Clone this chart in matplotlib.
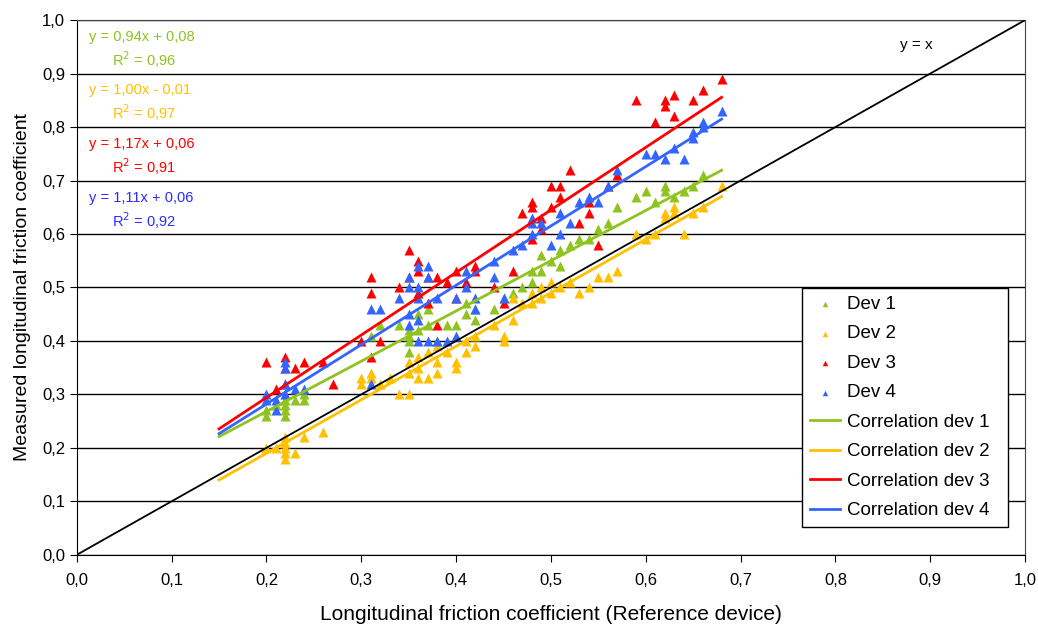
import matplotlib.pyplot as plt
from matplotlib.ticker import FuncFormatter

plt.rcParams['font.family'] = ['Liberation Sans', 'DejaVu Sans']

# measured points: (reference, measured)
dev1 = [(0.20, 0.26), (0.20, 0.27), (0.21, 0.28), (0.22, 0.26), (0.22, 0.27), (0.22, 0.28),
        (0.22, 0.29), (0.22, 0.30), (0.23, 0.29), (0.24, 0.29), (0.24, 0.30),
        (0.31, 0.41), (0.32, 0.43), (0.34, 0.43), (0.35, 0.38), (0.35, 0.40), (0.35, 0.41),
        (0.35, 0.42), (0.36, 0.42), (0.36, 0.45), (0.37, 0.43), (0.37, 0.46), (0.38, 0.40),
        (0.39, 0.43), (0.40, 0.43), (0.41, 0.45), (0.41, 0.47), (0.42, 0.44), (0.42, 0.46),
        (0.44, 0.46), (0.45, 0.48), (0.46, 0.49), (0.47, 0.50), (0.48, 0.51), (0.48, 0.53),
        (0.49, 0.53), (0.49, 0.56), (0.50, 0.55), (0.51, 0.54), (0.51, 0.57), (0.52, 0.58),
        (0.53, 0.59), (0.54, 0.59), (0.55, 0.61), (0.56, 0.62), (0.57, 0.65), (0.59, 0.67),
        (0.60, 0.68), (0.61, 0.66), (0.62, 0.68), (0.62, 0.69), (0.63, 0.67), (0.64, 0.68),
        (0.65, 0.69), (0.66, 0.71)]
dev2 = [(0.20, 0.20), (0.21, 0.20), (0.22, 0.18), (0.22, 0.19), (0.22, 0.20), (0.22, 0.21),
        (0.22, 0.22), (0.23, 0.19), (0.24, 0.22), (0.26, 0.23), (0.30, 0.32), (0.30, 0.33),
        (0.31, 0.33), (0.31, 0.34), (0.32, 0.32), (0.33, 0.33), (0.34, 0.30), (0.35, 0.30),
        (0.35, 0.34), (0.35, 0.36), (0.36, 0.33), (0.36, 0.35), (0.36, 0.37), (0.37, 0.33),
        (0.37, 0.38), (0.38, 0.34), (0.38, 0.36), (0.38, 0.39), (0.39, 0.38), (0.40, 0.35),
        (0.40, 0.36), (0.41, 0.38), (0.41, 0.40), (0.42, 0.39), (0.42, 0.41), (0.44, 0.43),
        (0.45, 0.40), (0.45, 0.41), (0.46, 0.44), (0.46, 0.48), (0.47, 0.47), (0.48, 0.47),
        (0.48, 0.49), (0.49, 0.48), (0.49, 0.50), (0.50, 0.49), (0.50, 0.51), (0.51, 0.50),
        (0.52, 0.51), (0.53, 0.49), (0.54, 0.50), (0.55, 0.52), (0.56, 0.52), (0.57, 0.53),
        (0.59, 0.60), (0.60, 0.59), (0.61, 0.60), (0.62, 0.63), (0.62, 0.64), (0.63, 0.65),
        (0.63, 0.64), (0.64, 0.60), (0.65, 0.64), (0.66, 0.65), (0.68, 0.69)]
dev3 = [(0.20, 0.36), (0.21, 0.31), (0.22, 0.32), (0.22, 0.35), (0.22, 0.37), (0.23, 0.35),
        (0.24, 0.36), (0.26, 0.36), (0.27, 0.32), (0.30, 0.40), (0.31, 0.49), (0.31, 0.52),
        (0.31, 0.37), (0.32, 0.40), (0.34, 0.50), (0.35, 0.57), (0.35, 0.52), (0.36, 0.49),
        (0.36, 0.53), (0.36, 0.55), (0.37, 0.47), (0.37, 0.52), (0.38, 0.43), (0.38, 0.52),
        (0.39, 0.51), (0.40, 0.48), (0.40, 0.53), (0.41, 0.51), (0.42, 0.54), (0.42, 0.53),
        (0.44, 0.50), (0.45, 0.47), (0.46, 0.53), (0.47, 0.64), (0.48, 0.65), (0.48, 0.66),
        (0.48, 0.59), (0.49, 0.61), (0.49, 0.63), (0.50, 0.65), (0.50, 0.69), (0.51, 0.67),
        (0.51, 0.69), (0.52, 0.72), (0.53, 0.62), (0.54, 0.64), (0.54, 0.66), (0.55, 0.58),
        (0.56, 0.69), (0.57, 0.71), (0.59, 0.85), (0.61, 0.81), (0.62, 0.85), (0.62, 0.84),
        (0.63, 0.86), (0.63, 0.82), (0.65, 0.85), (0.66, 0.87), (0.68, 0.89)]
dev4 = [(0.20, 0.29), (0.20, 0.30), (0.21, 0.27), (0.21, 0.29), (0.22, 0.30), (0.22, 0.32),
        (0.22, 0.35), (0.22, 0.36), (0.23, 0.31), (0.24, 0.31), (0.31, 0.32), (0.31, 0.46),
        (0.32, 0.46), (0.34, 0.48), (0.35, 0.43), (0.35, 0.45), (0.35, 0.50), (0.35, 0.52),
        (0.36, 0.40), (0.36, 0.44), (0.36, 0.48), (0.36, 0.50), (0.36, 0.54), (0.37, 0.40),
        (0.37, 0.52), (0.37, 0.54), (0.38, 0.40), (0.38, 0.48), (0.39, 0.40), (0.40, 0.41),
        (0.40, 0.48), (0.41, 0.50), (0.41, 0.53), (0.42, 0.46), (0.42, 0.48), (0.44, 0.52),
        (0.44, 0.55), (0.45, 0.48), (0.46, 0.57), (0.47, 0.58), (0.48, 0.60), (0.48, 0.62),
        (0.48, 0.63), (0.49, 0.62), (0.50, 0.58), (0.51, 0.60), (0.51, 0.64), (0.52, 0.62),
        (0.53, 0.66), (0.54, 0.67), (0.55, 0.66), (0.56, 0.69), (0.57, 0.72), (0.60, 0.75),
        (0.61, 0.75), (0.62, 0.74), (0.63, 0.76), (0.64, 0.74), (0.65, 0.78), (0.65, 0.79),
        (0.66, 0.80), (0.66, 0.81), (0.68, 0.83)]

# fitted lines as printed on the chart: slope, intercept, R²
fits = [(0.94, 0.08, 0.96), (1.00, -0.01, 0.97), (1.17, 0.06, 0.91), (1.11, 0.06, 0.92)]
fit_range = (0.15, 0.68)

colors = ['#8fc31f', '#ffc000', '#ff0000', '#3366ff']
text_colors = ['#8fc31f', '#ffc000', '#ff0000', '#2b2bff']
devices = [dev1, dev2, dev3, dev4]


def comma(v, pos):
    return f'{v:.1f}'.replace('.', ',')


def main():
    fig = plt.figure(figsize=(10.38, 6.29), dpi=100)
    ax = fig.add_axes([0.074, 0.118, 0.9135, 0.85])

    for i, pts in enumerate(devices):
        ax.scatter([p[0] for p in pts], [p[1] for p in pts], marker='^', s=52,
                   color=colors[i], linewidths=0, label=f'Dev {i + 1}', zorder=3)

    for i, (a, b, r2) in enumerate(fits):
        xs = list(fit_range)
        ax.plot(xs, [a * x + b for x in xs], color=colors[i], lw=2,
                label=f'Correlation dev {i + 1}', zorder=4)

    ax.plot([0, 1], [0, 1], color='black', lw=1.3, zorder=4)
    ax.text(0.885, 0.953, 'y = x', fontsize=11, ha='center', va='center')

    for i, (a, b, r2) in enumerate(fits):
        sign = '+' if b >= 0 else '-'
        eq = f'y = {a:.2f}x {sign} {abs(b):.2f}'.replace('.', ',')
        y0 = 0.969 - i * 0.1005
        ax.text(0.013, y0, eq, color=text_colors[i], fontsize=10.5, va='center')
        ax.text(0.037, y0 - 0.042, f'R$^2$ = {r2:.2f}'.replace('.', ','),
                color=text_colors[i], fontsize=10.5, va='center')

    ax.set_xlim(0, 1)
    ax.set_ylim(0, 1)
    ax.set_xticks([i / 10 for i in range(11)])
    ax.set_yticks([i / 10 for i in range(11)])
    ax.xaxis.set_major_formatter(FuncFormatter(comma))
    ax.yaxis.set_major_formatter(FuncFormatter(comma))
    ax.tick_params(labelsize=12, direction='out', length=5, color='black')
    ax.tick_params(axis='x', pad=8)
    ax.yaxis.grid(True, color='black', lw=1)
    ax.set_axisbelow(True)
    for s in ax.spines.values():
        s.set_color('#444444')
    ax.spines['left'].set_color('black')
    ax.spines['bottom'].set_color('black')

    ax.set_xlabel('Longitudinal friction coefficient (Reference device)', fontsize=15, labelpad=12)
    ax.set_ylabel('Measured longitudinal friction coefficient', fontsize=14, labelpad=8)

    leg = ax.legend(loc='lower left', bbox_to_anchor=(0.765, 0.052, 0.217, 0.448),
                    mode='expand', fontsize=13.5, frameon=True, fancybox=False,
                    borderpad=0.4, labelspacing=0.66, handlelength=1.6, handletextpad=0.4,
                    markerscale=0.55, borderaxespad=0)
    leg.get_frame().set_edgecolor('black')
    leg.get_frame().set_linewidth(1)
    leg.get_frame().set_alpha(1)

    fig.savefig('out.png', dpi=100)


if __name__ == "__main__":
    main()
